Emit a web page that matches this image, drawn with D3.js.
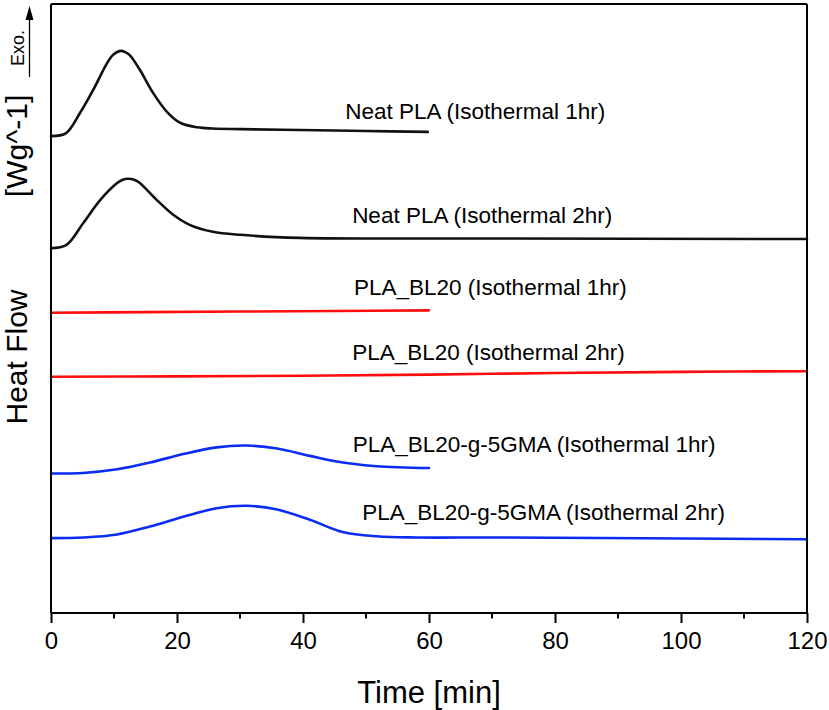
<!DOCTYPE html>
<html>
<head>
<meta charset="utf-8">
<script src="https://cdn.jsdelivr.net/npm/d3@7"></script>
<style>
  html, body { margin: 0; padding: 0; background: #fff; }
  svg { display: block; font-family: "Liberation Sans", Arial, sans-serif; }
</style>
</head>
<body>
<svg id="chart" width="829" height="710"></svg>
<script>
// ---- data (time in min, heat flow in arbitrary offset units) ----
const xTicks = [0, 20, 40, 60, 80, 100, 120];
const xMinorTicks = [10, 30, 50, 70, 90, 110];

const neat1hT = [0, 2.4, 4.6, 6.7, 8.9, 9.8, 11.0, 11.8, 12.5, 14.1, 16.2, 18.4, 20.5, 23.2, 25.7, 30, 39.5, 50, 59.8];
const neat1hV = [78.3, 78.8, 82.1, 85.9, 90.3, 91.6, 92.3, 92.1, 91.6, 89.2, 85.4, 82.3, 80.5, 79.75, 79.55, 79.45, 79.3, 79.15, 79.0];

const neat2hT = [0, 2.4, 5.1, 7.8, 10.5, 11.3, 12.2, 13.3, 14.1, 16.8, 19.4, 22.1, 25.7, 30, 39.5, 71.3, 120];
const neat2hV = [59.9, 60.4, 64.0, 67.8, 70.6, 71.1, 71.3, 71.1, 70.6, 67.8, 65.4, 63.7, 62.6, 62.1, 61.6, 61.5, 61.4];

const bl1hT = [0, 15, 30, 45, 60];
const bl1hV = [49.3, 49.4, 49.5, 49.6, 49.7];

const bl2hT = [0, 20, 40, 60, 80, 100, 120];
const bl2hV = [38.8, 38.85, 38.95, 39.15, 39.4, 39.6, 39.7];

const gma1hT = [0, 5.1, 10.5, 15.7, 21.0, 26.3, 31.1, 35.9, 41.1, 46.3, 51.7, 60];
const gma1hV = [22.9, 23.0, 23.6, 24.7, 26.1, 27.2, 27.5, 27.0, 25.8, 24.7, 24.1, 23.8];

const gma2hT = [0, 5.1, 10.5, 15.7, 21.0, 26.3, 31.1, 35.9, 41.1, 46.3, 51.7, 58.1, 71.3, 120];
const gma2hV = [12.3, 12.4, 12.9, 14.2, 15.8, 17.2, 17.6, 17.0, 15.3, 13.3, 12.6, 12.4, 12.4, 12.1];

const seriesNames = [
  "Neat PLA (Isothermal 1hr)", "Neat PLA (Isothermal 2hr)",
  "PLA_BL20 (Isothermal 1hr)", "PLA_BL20 (Isothermal 2hr)",
  "PLA_BL20-g-5GMA (Isothermal 1hr)", "PLA_BL20-g-5GMA (Isothermal 2hr)"
];
const seriesColors = ["#111111", "#111111", "#ff0d0d", "#ff0d0d", "#0a2cf5", "#0a2cf5"];
const labelT = [46.7, 47.8, 48.1, 47.8, 47.9, 49.4];
const labelV = [81.1, 64.0, 52.2, 41.5, 26.4, 15.3];

// ---- layout ----
const svg = d3.select("#chart");
const mLeft = 51, mRight = 807, mTop = 4, mBottom = 613;
const x = d3.scaleLinear().domain([0, 120]).range([mLeft, mRight]);
const y = d3.scaleLinear().domain([0, 100]).range([mBottom, mTop]);

const allT = [neat1hT, neat2hT, bl1hT, bl2hT, gma1hT, gma2hT];
const allV = [neat1hV, neat2hV, bl1hV, bl2hV, gma1hV, gma2hV];

const line = d3.line().x(d => x(d[0])).y(d => y(d[1])).curve(d3.curveCatmullRom.alpha(0.5));

allT.forEach((ts, i) => {
  const pts = ts.map((t, j) => [t, allV[i][j]]);
  svg.append("path")
    .attr("d", line(pts))
    .attr("fill", "none")
    .attr("stroke", seriesColors[i])
    .attr("stroke-width", 2.6)
    .attr("stroke-linejoin", "round")
    .attr("stroke-linecap", "round");
});

// series labels
seriesNames.forEach((name, i) => {
  svg.append("text")
    .attr("x", x(labelT[i]))
    .attr("y", y(labelV[i]))
    .attr("font-size", 22.5)
    .attr("fill", "#000")
    .text(name);
});

// frame
const frame = svg.append("g").attr("stroke", "#000").attr("stroke-width", 2).attr("fill", "none");
frame.append("line").attr("x1", mLeft).attr("x2", mRight).attr("y1", mTop).attr("y2", mTop);
frame.append("line").attr("x1", mRight).attr("x2", mRight).attr("y1", mTop).attr("y2", mBottom);
frame.append("line").attr("x1", mLeft).attr("x2", mLeft).attr("y1", mTop).attr("y2", mBottom);

// x axis
const xAxis = svg.append("g").attr("transform", `translate(0,${mBottom})`)
  .call(d3.axisBottom(x).tickValues(xTicks).tickSize(10).tickPadding(9).tickFormat(d3.format("d")));
xAxis.select(".domain").attr("stroke-width", 2).attr("d", `M${mLeft},0H${mRight}`);
xAxis.selectAll(".tick line").attr("stroke-width", 2);
xAxis.selectAll(".tick text").attr("font-size", 24).attr("font-family", "Liberation Sans, Arial, sans-serif").attr("fill", "#000");
svg.append("g").attr("transform", `translate(0,${mBottom})`)
  .selectAll("line").data(xMinorTicks).join("line")
  .attr("x1", d => x(d)).attr("x2", d => x(d)).attr("y1", 0).attr("y2", 5.5)
  .attr("stroke", "#000").attr("stroke-width", 2);

// axis titles
svg.append("text")
  .attr("x", (mLeft + mRight) / 2).attr("y", 703)
  .attr("text-anchor", "middle").attr("font-size", 31).attr("fill", "#000")
  .text("Time [min]");

svg.append("text")
  .attr("transform", "translate(27,357) rotate(-90)")
  .attr("text-anchor", "middle").attr("font-size", 30).attr("fill", "#000")
  .text("Heat Flow");

svg.append("text")
  .attr("transform", "translate(27,146) rotate(-90)")
  .attr("text-anchor", "middle").attr("font-size", 30).attr("fill", "#000")
  .text("[Wg^-1]");

svg.append("text")
  .attr("transform", "translate(24,48) rotate(-90)")
  .attr("text-anchor", "middle").attr("font-size", 18).attr("fill", "#000")
  .text("Exo.");

// Exo arrow
svg.append("line").attr("x1", 29.5).attr("x2", 29.5).attr("y1", 77).attr("y2", 16)
  .attr("stroke", "#000").attr("stroke-width", 1.3);
svg.append("path").attr("d", "M29.5,6 L33.5,20 L25.5,20 Z").attr("fill", "#000");
</script>
</body>
</html>
